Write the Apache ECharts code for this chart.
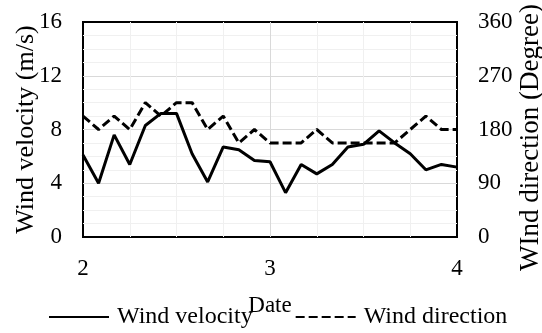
<!DOCTYPE html>
<html>
<head>
<meta charset="utf-8">
<script src="https://cdn.jsdelivr.net/npm/echarts@6/dist/echarts.min.js"></script>
<style>
  html, body { margin: 0; padding: 0; background: #fff; }
  #chart { width: 542px; height: 333px; }
</style>
</head>
<body>
<div id="chart"></div>
<script>
"use strict";

// time of each reading, hours after the start of day 2
var hours = [0, 2, 4, 6, 8, 10, 12, 14, 16, 18, 20, 22, 24,
    26, 28, 30, 32, 34, 36, 38, 40, 42, 44, 46, 48];

var windVelocity = [6.1, 4.0, 7.6, 5.4, 8.3, 9.2, 9.2, 6.2, 4.1, 6.7, 6.5, 5.7, 5.6,
    3.3, 5.4, 4.7, 5.4, 6.7, 6.9, 7.9, 7.0, 6.2, 5.0, 5.4, 5.2];

var windDirection = [202.5, 180, 202.5, 180, 225, 202.5, 225, 225, 180, 202.5, 157.5, 180, 157.5,
    157.5, 157.5, 180, 157.5, 157.5, 157.5, 157.5, 157.5, 180, 202.5, 180, 180];

var dateLabels = ['2', '3', '4'];

var font = "'Liberation Serif', 'Times New Roman', serif";

function pairs(ys) {
    return ys.map(function (y, i) { return [hours[i], y]; });
}

var myChart = echarts.init(document.getElementById('chart'));

var option = {
    animation: false,
    textStyle: { fontFamily: font, color: '#000' },
    grid: {
        left: 83, right: 85, top: 22, bottom: 96,
        outerBoundsMode: 'none',
        show: true,
        borderColor: '#000',
        borderWidth: 2,
        backgroundColor: 'transparent'
    },
    legend: {
        left: 48,
        top: 305,
        padding: 0,
        itemWidth: 60,
        itemHeight: 14,
        itemGap: 42,
        itemStyle: { opacity: 0 },
        textStyle: { fontFamily: font, fontSize: 24, color: '#000', padding: [0, 0, 0, 3] },
        data: ['Wind velocity', 'Wind direction']
    },
    xAxis: {
        type: 'value',
        min: 0, max: 48, interval: 24,
        name: 'Date',
        nameLocation: 'middle',
        nameGap: 57,
        nameMoveOverlap: false,
        nameTextStyle: { fontFamily: font, fontSize: 23, color: '#000' },
        axisLine: { show: false },
        axisTick: { show: false },
        axisLabel: {
            margin: 20,
            fontFamily: font, fontSize: 23, color: '#000',
            formatter: function (v) { return dateLabels[Math.round(v / 24)]; }
        },
        splitLine: { show: true, showMinLine: false, showMaxLine: false, lineStyle: { color: '#d9d9d9', width: 1 } },
        minorTick: { show: false, splitNumber: 4 },
        minorSplitLine: { show: true, lineStyle: { color: '#f0f0f0', width: 1 } }
    },
    yAxis: [{
        type: 'value',
        min: 0, max: 16, interval: 4,
        name: 'Wind velocity (m/s)',
        nameLocation: 'middle',
        nameGap: 44,
        nameMoveOverlap: false,
        nameTextStyle: { fontFamily: font, fontSize: 26, color: '#000' },
        axisLine: { show: false },
        axisTick: { show: false },
        axisLabel: { margin: 21, fontFamily: font, fontSize: 23, color: '#000' },
        splitLine: { show: true, showMinLine: false, showMaxLine: false, lineStyle: { color: '#d9d9d9', width: 1 } },
        minorTick: { show: false, splitNumber: 4 },
        minorSplitLine: { show: true, lineStyle: { color: '#f0f0f0', width: 1 } }
    }, {
        type: 'value',
        min: 0, max: 360, interval: 90,
        name: 'WInd direction (Degree)',
        nameLocation: 'middle',
        nameGap: 60,
        nameMoveOverlap: false,
        nameTextStyle: { fontFamily: font, fontSize: 27, color: '#000', padding: [0, 16, 0, 0] },
        axisLine: { show: false },
        axisTick: { show: false },
        axisLabel: { margin: 21, fontFamily: font, fontSize: 23, color: '#000' },
        splitLine: { show: false }
    }],
    series: [{
        name: 'Wind velocity',
        type: 'line',
        yAxisIndex: 0,
        symbol: 'none',
        color: '#000',
        lineStyle: { color: '#000', width: 3 },
        data: pairs(windVelocity)
    }, {
        name: 'Wind direction',
        type: 'line',
        yAxisIndex: 1,
        symbol: 'none',
        color: '#000',
        lineStyle: { color: '#000', width: 3, type: [9, 4] },
        data: pairs(windDirection)
    }]
};

myChart.setOption(option);
</script>
</body>
</html>
